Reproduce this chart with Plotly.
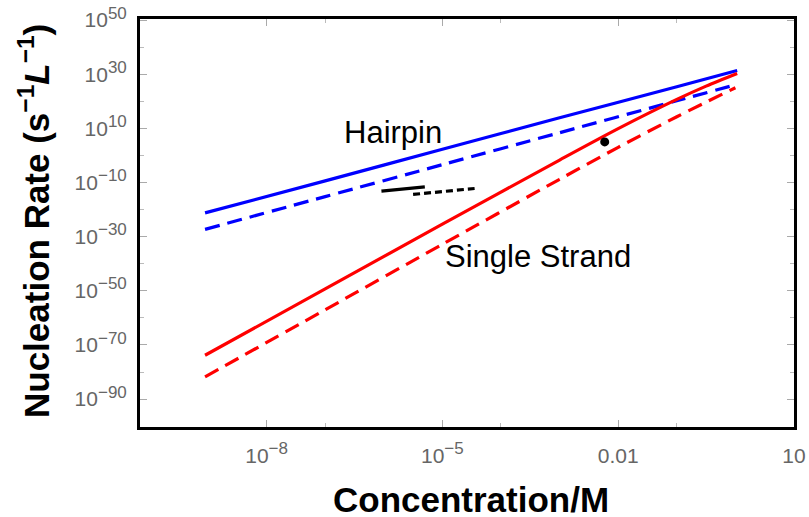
import plotly.graph_objects as go

# ---- data (log10 values) ----
hp_solid_logc = [-9.05, -7.0, -5.0, -3.0, -1.0, 0.03]
hp_solid_logr = [-21.2, -9.4, 2.3, 13.9, 25.4, 31.4]

hp_dash_logc = [-9.05, -7.0, -5.0, -3.0, -1.0, 0.0]
hp_dash_logr = [-27.3, -15.2, -3.4, 8.4, 20.2, 26.1]

ss_solid_logc = [-9.05, -7.0, -5.0, -3.0, -2.0, -1.0, -0.5, 0.03]
ss_solid_logr = [-73.8, -49.3, -25.4, -1.7, 9.9, 20.7, 25.6, 30.3]

ss_dash_logc = [-9.05, -7.0, -5.0, -3.0, -2.0, -1.0, 0.0]
ss_dash_logr = [-81.8, -57.0, -32.8, -8.8, 3.0, 14.3, 25.0]

dot_logc = [-2.23]
dot_logr = [5.0]

seg_solid_logc = [-6.04, -5.30]
seg_solid_logr = [-13.2, -11.6]
seg_dash_logc = [-5.50, -4.45]
seg_dash_logr = [-14.4, -12.2]

x_tickvals = [1e-8, 1e-5, 1e-2, 1e1]
x_ticktext = ["10<sup><span style='font-size:17px'>\u22128</span></sup>",
              "10<sup><span style='font-size:17px'>\u22125</span></sup>", "0.01", "10"]
x_minor = [1e-7, 1e-4, 1e-1]

y_exps = [50, 30, 10, -10, -30, -50, -70, -90]
y_minor_exps = [40, 20, 0, -20, -40, -60, -80]

p = lambda v: [10 ** e for e in v]

fig = go.Figure()
BLUE = "#0000FF"
RED = "#FF0000"

fig.add_trace(go.Scatter(x=p(hp_solid_logc), y=p(hp_solid_logr), mode="lines",
                         line=dict(color=BLUE, width=3.2, shape="spline", smoothing=0.8)))
fig.add_trace(go.Scatter(x=p(hp_dash_logc), y=p(hp_dash_logr), mode="lines",
                         line=dict(color=BLUE, width=3.2, dash="15px,8px", shape="spline", smoothing=0.8)))
fig.add_trace(go.Scatter(x=p(ss_solid_logc), y=p(ss_solid_logr), mode="lines",
                         line=dict(color=RED, width=3.2, shape="spline", smoothing=0.8)))
fig.add_trace(go.Scatter(x=p(ss_dash_logc), y=p(ss_dash_logr), mode="lines",
                         line=dict(color=RED, width=3.2, dash="15px,8px", shape="spline", smoothing=0.8)))
fig.add_trace(go.Scatter(x=p(seg_solid_logc), y=p(seg_solid_logr), mode="lines",
                         line=dict(color="black", width=3.2)))
fig.add_trace(go.Scatter(x=p(seg_dash_logc), y=p(seg_dash_logr), mode="lines",
                         line=dict(color="black", width=3.2, dash="7px,4px")))
fig.add_trace(go.Scatter(x=p(dot_logc), y=p(dot_logr), mode="markers",
                         marker=dict(color="black", size=9)))

tickfont = dict(family="Liberation Sans, Arial, sans-serif", size=21, color="#666666")

fig.update_xaxes(type="log", range=[-10.16, 1.0], automargin=False,
                 tickmode="array", tickvals=x_tickvals, ticktext=x_ticktext,
                 ticks="inside", ticklen=7, tickwidth=1, tickcolor="#aaaaaa",
                 minor=dict(tickmode="array", tickvals=x_minor, ticks="inside",
                            ticklen=4, tickcolor="#bbbbbb"),
                 showline=True, linewidth=3, linecolor="black", mirror="ticks",
                 showgrid=False, zeroline=False, tickfont=tickfont,
                 ticklabelstandoff=8, ticklabeloverflow="allow")
fig.update_yaxes(type="log", range=[-100.3, 50.4], automargin=False,
                 tickmode="array", tickvals=[10.0 ** e for e in y_exps],
                 ticktext=["10<sup><span style='font-size:17px'>" + str(e).replace("-", "\u2212")
                           + "</span></sup>" for e in y_exps],
                 ticks="inside", ticklen=7, tickwidth=1, tickcolor="#aaaaaa",
                 minor=dict(tickmode="array", tickvals=[10.0 ** e for e in y_minor_exps],
                            ticks="inside", ticklen=4, tickcolor="#bbbbbb"),
                 showline=True, linewidth=3, linecolor="black", mirror="ticks",
                 showgrid=False, zeroline=False, tickfont=tickfont,
                 ticklabelstandoff=6, ticklabeloverflow="allow")

labfont = dict(family="Liberation Sans, Arial, sans-serif", size=31, color="black")
titlefont = dict(family="Liberation Sans, Arial, sans-serif", size=35, color="black")

fig.update_layout(
    width=809, height=517,
    margin=dict(l=140, r=15, t=19, b=90),
    paper_bgcolor="white", plot_bgcolor="white",
    showlegend=False,
    annotations=[
        dict(text="Hairpin", x=-5.84, y=8.4, xref="x", yref="y", showarrow=False,
             font=labfont, xanchor="center", yanchor="middle"),
        dict(text="Single Strand", x=-3.36, y=-37.2, xref="x", yref="y", showarrow=False,
             font=labfont, xanchor="center", yanchor="middle"),
        dict(text="<b>Concentration/M</b>", x=0.506, y=-0.178, xref="paper", yref="paper",
             showarrow=False, font=titlefont, xanchor="center", yanchor="middle"),
        dict(text="<b>Nucleation Rate (s<sup>\u22121</sup><i>L</i><sup>\u22121</sup>)</b>",
             x=-0.162, y=0.505, xref="paper", yref="paper", textangle=-90,
             showarrow=False, font=titlefont, xanchor="center", yanchor="middle"),
    ],
)

fig.write_html("out.html", config={"displayModeBar": False},
               post_script="document.body.style.margin='0px';")
